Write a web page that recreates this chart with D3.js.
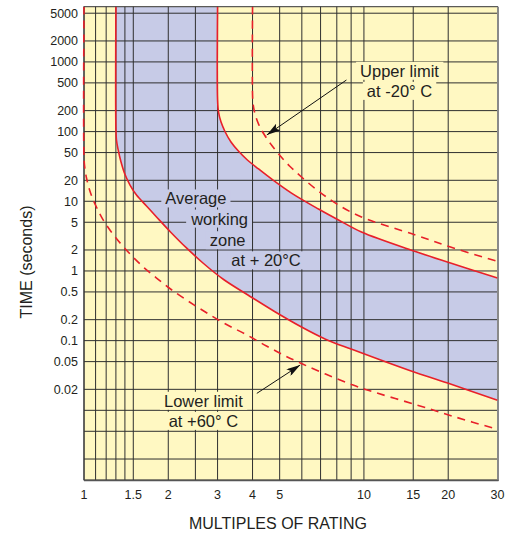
<!DOCTYPE html>
<html>
<head>
<meta charset="UTF-8">
<title>Time vs multiples of rating</title>
<style>
  body { margin: 0; background: #fff; }
  text { font-family: 'Liberation Sans', Arial, sans-serif; fill: #231f20; }
</style>
</head>
<body>
<svg width="516" height="533"></svg>
<script src="https://d3js.org/d3.v7.min.js"></script>
<script>
// axis ticks and grid
const xTicks = [1, 1.5, 2, 3, 4, 5, 10, 15, 20, 30];
const xGrid = [1, 1.1, 1.2, 1.3, 1.4, 1.5, 2, 2.5, 3, 4, 5, 6, 7, 8, 9, 10, 15, 20, 30];
const yTicks = [5000, 2000, 1000, 500, 200, 100, 50, 20, 10, 5, 2, 1, 0.5, 0.2, 0.1, 0.05, 0.02];
const yGridExtra = [0.01, 0.005, 0.002];

// curves: [multiple of rating, time in seconds]
const upperLimit = [[4, 6200], [4, 335], [4.022, 241], [4.092, 173], [4.218, 124], [4.414, 89.4],
  [4.675, 64.2], [4.993, 46.2], [5.422, 32.1], [5.984, 22.3], [6.88, 14], [8.11, 8.84], [9.8, 5.95],
  [15.28, 3.28], [20.38, 2.2], [30, 1.37]];
const upperAvg = [[3, 6200], [3, 284], [3.024, 191], [3.087, 137], [3.195, 98.7], [3.35, 70.9],
  [3.561, 52.6], [3.834, 39.1], [4.202, 29.1], [4.675, 20.9], [5.511, 13.1], [6.88, 7.74],
  [8.11, 5.39], [9.8, 3.62], [15.28, 1.9], [20.38, 1.3], [30, 0.79]];
const lowerAvg = [[1.3, 6200], [1.3, 113], [1.306, 75.7], [1.325, 54.4], [1.356, 36.6], [1.399, 24.6],
  [1.46, 17.1], [1.54, 12.3], [1.672, 8.56], [1.816, 5.95], [2.037, 3.63], [2.323, 2.14],
  [2.673, 1.28], [3.153, 0.754], [3.851, 0.452], [4.792, 0.262], [5.984, 0.157], [7.291, 0.105],
  [9.1, 0.0745], [15.28, 0.0348], [20.38, 0.0238], [30, 0.014]];
const lowerLimit = [[1, 6200], [1, 41.8], [1.0069, 30], [1.0208, 21.6], [1.042, 15.5], [1.071, 11.2],
  [1.1121, 8], [1.1594, 5.76], [1.2233, 4.13], [1.301, 2.97], [1.395, 2.14], [1.509, 1.53],
  [1.645, 1.1], [1.816, 0.792], [2.037, 0.551], [2.323, 0.383], [2.695, 0.262], [3.181, 0.176],
  [3.784, 0.123], [4.486, 0.0838], [5.203, 0.0612], [6.033, 0.0462], [7.291, 0.0332], [9.03, 0.0235],
  [10.13, 0.0199], [15.28, 0.0121], [21.24, 0.008], [30, 0.00533]];

// annotations, anchored in data units
const upperLabel = [["Upper limit", 13.4, 740], ["at -20° C", 13.4, 381]];
const avgLabel = [["Average", 2.51, 10.9], ["working", 3.05, 5.6], ["zone", 3.26, 2.74], ["at + 20°C", 4.47, 1.41]];
const lowerLabel = [["Lower limit", 2.67, 0.0136], ["at +60° C", 2.67, 0.0070]];
const upperArrow = [[8.66, 550], [4.498, 89.4]];
const lowerArrow = [[4.143, 0.0175], [5.92, 0.0447]];

const yellow = "#fff8c2", blue = "#c7cbe7", red = "#e8202a";

const svg = d3.select("svg");
const x = d3.scaleLog().domain([1, 30]).range([84, 497.5]);
const y = d3.scaleLog().domain([0.001, 6200]).range([480, 6.7]);
const [x0, x1] = x.range(), [y1, y0] = y.range();

const defs = svg.append("defs");
defs.append("clipPath").attr("id", "plot")
  .append("rect").attr("x", x0 - 2).attr("y", y0).attr("width", x1 - x0 + 2).attr("height", y1 - y0);
defs.append("marker").attr("id", "head")
  .attr("viewBox", "0 0 14 8").attr("refX", 14).attr("refY", 4)
  .attr("markerWidth", 14).attr("markerHeight", 8)
  .attr("markerUnits", "userSpaceOnUse").attr("orient", "auto")
  .append("path").attr("d", "M0,0L14,4L0,8L3,4Z").attr("fill", "#111");

svg.append("rect").attr("x", x0).attr("y", y0).attr("width", x1 - x0).attr("height", y1 - y0)
  .attr("fill", yellow);

const line = d3.line().x(d => x(d[0])).y(d => y(d[1])).curve(d3.curveCatmullRom.alpha(0.5));

// working zone: blue below-left of upper curve, then yellow again below-left of lower curve
const corner = ` L${x1},${y1} L${x0},${y1} L${x0},${y0} Z`;
const zone = svg.append("g").attr("clip-path", "url(#plot)");
zone.append("path").attr("d", line(upperAvg) + corner).attr("fill", blue);
zone.append("path").attr("d", line(lowerAvg) + corner).attr("fill", yellow);

// grid
const grid = svg.append("g").attr("stroke", "#2f2f2f").attr("stroke-width", 1);
grid.selectAll(".h").data(yTicks.concat(yGridExtra)).enter().append("line")
  .attr("x1", x0).attr("x2", x1).attr("y1", d => y(d)).attr("y2", d => y(d));
grid.selectAll(".v").data(xGrid).enter().append("line")
  .attr("x1", d => x(d)).attr("x2", d => x(d)).attr("y1", y0).attr("y2", y1);

// label backgrounds go under the curves, texts on top
const labelBg = svg.append("g");

svg.append("rect").attr("x", x0).attr("y", y0).attr("width", x1 - x0).attr("height", y1 - y0)
  .attr("fill", "none").attr("stroke", "#333").attr("stroke-width", 1);
svg.append("line").attr("x1", x1 + 0.5).attr("x2", x1 + 0.5).attr("y1", y0).attr("y2", y1 + 1)
  .attr("stroke", "#8a8a8a").attr("stroke-width", 2);
svg.append("line").attr("x1", x0).attr("x2", x1 + 1).attr("y1", y1 + 0.5).attr("y2", y1 + 0.5)
  .attr("stroke", "#555").attr("stroke-width", 1.5);

const curves = svg.append("g").attr("clip-path", "url(#plot)")
  .attr("fill", "none").attr("stroke", red).attr("stroke-width", 1.6);
curves.append("path").attr("d", line(upperAvg));
curves.append("path").attr("d", line(lowerAvg));
curves.append("path").attr("d", line(upperLimit)).attr("stroke-dasharray", "8,6");
curves.append("path").attr("d", line(lowerLimit)).attr("stroke-dasharray", "8,6");

// arrows
[upperArrow, lowerArrow].forEach(a => {
  svg.append("line")
    .attr("x1", x(a[0][0])).attr("y1", y(a[0][1]))
    .attr("x2", x(a[1][0])).attr("y2", y(a[1][1]))
    .attr("stroke", "#111").attr("stroke-width", 1)
    .attr("marker-end", "url(#head)");
});

// annotation text with per-line background
function label(lines, bg) {
  lines.forEach(l => {
    const t = svg.append("text")
      .attr("x", x(l[1])).attr("y", y(l[2])).attr("dy", "0.35em")
      .attr("text-anchor", "middle").attr("font-size", 16.5)
      .text(l[0]);
    const b = t.node().getBBox();
    labelBg.append("rect")
      .attr("x", b.x - 4).attr("y", b.y).attr("width", b.width + 8).attr("height", b.height)
      .attr("fill", bg);
  });
}
label(upperLabel, yellow);
label(avgLabel, blue);
label(lowerLabel, yellow);

// tick labels
svg.append("g").selectAll("text").data(xTicks).enter().append("text")
  .attr("x", d => x(d)).attr("y", 499).attr("text-anchor", "middle")
  .attr("font-size", 12.5).text(d => d);
svg.append("g").selectAll("text").data(yTicks).enter().append("text")
  .attr("x", 78).attr("y", d => y(d)).attr("dy", "0.35em").attr("text-anchor", "end")
  .attr("font-size", 12.5).text(d => d);

// axis titles
svg.append("text").attr("x", 278).attr("y", 529).attr("text-anchor", "middle")
  .attr("font-size", 16).text("MULTIPLES OF RATING");
svg.append("text").attr("transform", "translate(32,262) rotate(-90)").attr("text-anchor", "middle")
  .attr("font-size", 16).text("TIME (seconds)");
</script>
</body>
</html>
